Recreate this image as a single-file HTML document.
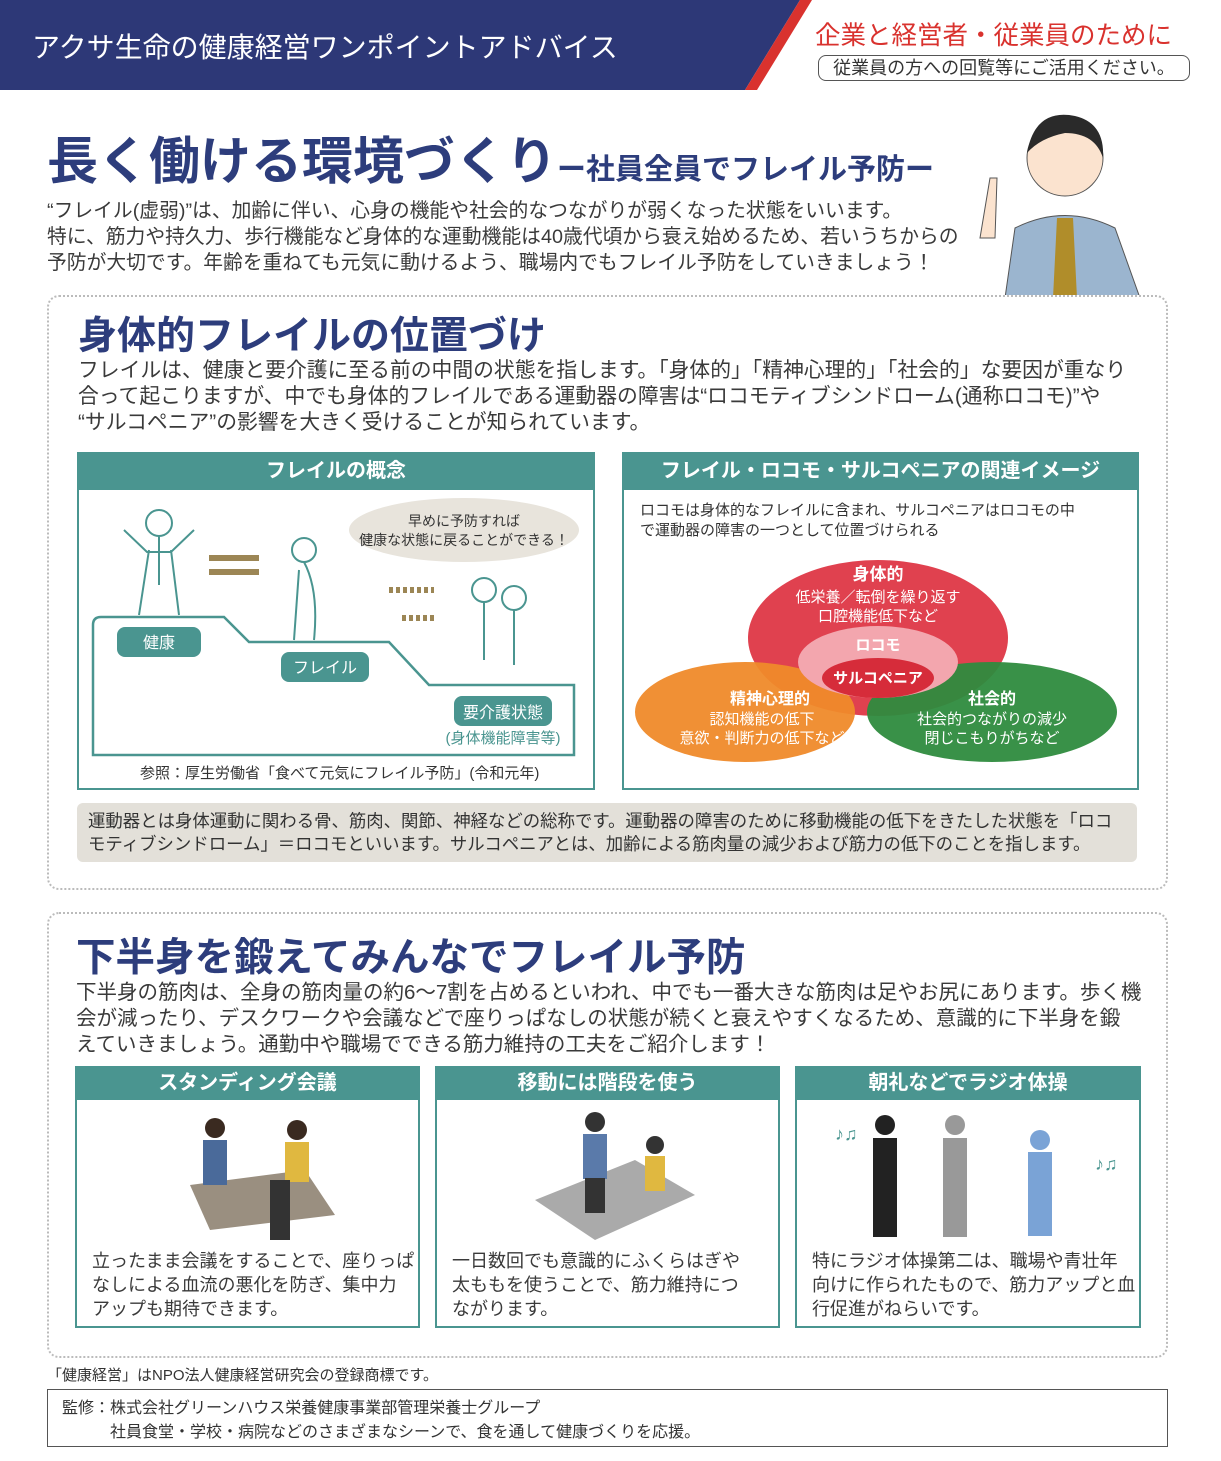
<!DOCTYPE html>
<html><head><meta charset="utf-8"><style>
body{margin:0;width:1221px;height:1461px;background:#fff;position:relative;overflow:hidden;font-family:"Liberation Sans","Noto Sans CJK JP",sans-serif;color:#333}
.a{position:absolute;white-space:nowrap}
.p{font-size:19px;line-height:26px;color:#3a3a3a}
.box{position:absolute;border:2px dotted #bbb;border-radius:12px;background:#fff}
.th{position:absolute;background:#4a9590;color:#fff;font-weight:bold;text-align:center}
.card{position:absolute;border:2px solid #4a9590;background:#fff}
</style></head><body>
<svg class="a" style="left:0;top:0" width="1221" height="95">
<polygon points="0,0 800,0 745,90 0,90" fill="#2d3877"/>
<polygon points="800,0 812,0 757,90 745,90" fill="#d9322e"/>
</svg>
<div class="a" style="left:32px;top:26px;font-size:28px;color:#fff">アクサ生命の健康経営ワンポイントアドバイス</div>
<div class="a" style="left:815px;top:15px;font-size:25.5px;color:#d9322e">企業と経営者・従業員のために</div>
<div class="a" style="left:818px;top:55px;width:370px;height:24px;border:1.5px solid #555;border-radius:8px;font-size:18px;line-height:24px;text-align:center;color:#333">従業員の方への回覧等にご活用ください。</div>

<div class="a" style="left:47px;top:120px;font-size:51px;font-weight:bold;color:#2d3d7c">長く働ける環境づくり<span style="font-size:29px">ー社員全員でフレイル予防ー</span></div>
<div class="a p" style="left:47px;top:198px;font-size:19.8px">“フレイル(虚弱)”は、加齢に伴い、心身の機能や社会的なつながりが弱くなった状態をいいます。<br>特に、筋力や持久力、歩行機能など身体的な運動機能は40歳代頃から衰え始めるため、若いうちからの<br>予防が大切です。年齢を重ねても元気に動けるよう、職場内でもフレイル予防をしていきましょう！</div>
<svg class="a" style="left:965px;top:98px" width="200" height="200">
<circle cx="100" cy="60" r="38" fill="#fbe3cf" stroke="#555"/>
<path d="M62,55 Q70,10 110,18 Q140,25 138,60 Q130,35 100,35 Q75,40 62,55Z" fill="#2a2a2a"/>
<path d="M40,200 L50,130 Q100,105 150,130 L175,200Z" fill="#9bb5cf" stroke="#555"/>
<polygon points="92,120 108,120 112,200 88,200" fill="#b08d2a"/>
<path d="M15,140 L25,80 L32,80 L30,140Z" fill="#fbe3cf" stroke="#555"/>
</svg>

<div class="box" style="left:47px;top:295px;width:1117px;height:591px"></div>
<div class="a" style="left:78px;top:305px;font-size:39px;font-weight:bold;color:#2d3d7c">身体的フレイルの位置づけ</div>
<div class="a p" style="left:78px;top:358px;font-size:20.8px">フレイルは、健康と要介護に至る前の中間の状態を指します。「身体的」「精神心理的」「社会的」な要因が重なり<br>合って起こりますが、中でも身体的フレイルである運動器の障害は“ロコモティブシンドローム(通称ロコモ)”や<br>“サルコペニア”の影響を大きく受けることが知られています。</div>

<div class="card" style="left:77px;top:452px;width:514px;height:334px"></div>
<div class="th" style="left:77px;top:452px;width:518px;height:38px;line-height:38px;font-size:20px">フレイルの概念</div>
<svg class="a" style="left:79px;top:490px" width="512" height="294">
<ellipse cx="385" cy="40" rx="115" ry="32" fill="#e8e4dc"/>
<text x="385" y="36" font-size="14" text-anchor="middle" fill="#333">早めに予防すれば</text>
<text x="385" y="55" font-size="14" text-anchor="middle" fill="#333">健康な状態に戻ることができる！</text>
<path d="M14,265 V135 Q14,127 22,127 H145 L170,152 H310 L350,195 H495 V265Z" fill="none" stroke="#4a9590" stroke-width="2.5"/>
<rect x="38" y="137" width="84" height="30" rx="8" fill="#4a9590"/><text x="80" y="158" font-size="16" fill="#fff" text-anchor="middle">健康</text>
<rect x="202" y="162" width="88" height="30" rx="8" fill="#4a9590"/><text x="246" y="183" font-size="16" fill="#fff" text-anchor="middle">フレイル</text>
<rect x="375" y="206" width="98" height="30" rx="8" fill="#4a9590"/><text x="424" y="228" font-size="16" fill="#fff" text-anchor="middle">要介護状態</text>
<text x="424" y="253" font-size="15" fill="#4a9590" text-anchor="middle">(身体機能障害等)</text>
<g fill="none" stroke="#4a9590" stroke-width="2">
<circle cx="80" cy="33" r="13"/><path d="M80,46 V95 M60,125 L70,60 M100,125 L92,60 M45,40 L68,62 L92,62 L115,40"/>
<circle cx="225" cy="60" r="12"/><path d="M225,72 Q240,100 235,150 M220,80 L215,150"/>
<circle cx="405" cy="100" r="12"/><circle cx="435" cy="108" r="12"/><path d="M405,112 V170 M435,120 V175"/>
</g>
<path d="M130,68 H180 M180,82 H130" stroke="#9c8655" stroke-width="6"/>
<path d="M310,100 H355 M355,128 H320" stroke="#9c8655" stroke-width="6" stroke-dasharray="4 3"/>
</svg>
<div class="a" style="left:140px;top:762px;font-size:15px;color:#333">参照：厚生労働省「食べて元気にフレイル予防」(令和元年)</div>

<div class="card" style="left:622px;top:452px;width:513px;height:334px"></div>
<div class="th" style="left:622px;top:452px;width:517px;height:38px;line-height:38px;font-size:20px">フレイル・ロコモ・サルコペニアの関連イメージ</div>
<div class="a" style="left:640px;top:501px;font-size:15px;line-height:20px;color:#333">ロコモは身体的なフレイルに含まれ、サルコペニアはロコモの中<br>で運動器の障害の一つとして位置づけられる</div>
<svg class="a" style="left:622px;top:540px" width="517" height="246">
<ellipse cx="256" cy="98" rx="130" ry="78" fill="#e0414f"/>
<ellipse cx="123" cy="172" rx="110" ry="50" fill="#ef8a2a" opacity="0.95"/>
<ellipse cx="370" cy="172" rx="125" ry="50" fill="#2e8b3e" opacity="0.95"/>
<ellipse cx="256" cy="122" rx="80" ry="36" fill="#f3a6ae"/>
<ellipse cx="256" cy="138" rx="56" ry="20" fill="#d62c3a"/>
<g font-size="15" text-anchor="middle" fill="#fff">
<text x="256" y="40" font-weight="bold" font-size="17">身体的</text>
<text x="256" y="62">低栄養／転倒を繰り返す</text><text x="256" y="81">口腔機能低下など</text>
<text x="256" y="110" font-weight="bold">ロコモ</text><text x="256" y="143" font-weight="bold">サルコペニア</text>
<text x="148" y="164" font-weight="bold" font-size="16">精神心理的</text>
<text x="140" y="184">認知機能の低下</text><text x="140" y="203">意欲・判断力の低下など</text>
<text x="370" y="164" font-weight="bold" font-size="16">社会的</text>
<text x="370" y="184">社会的つながりの減少</text><text x="370" y="203">閉じこもりがちなど</text>
</g>
</svg>
<div class="a" style="left:77px;top:803px;width:1060px;height:59px;background:#e3e0d9;border-radius:6px"></div>
<div class="a" style="left:88px;top:810px;font-size:17.4px;line-height:23px;color:#333">運動器とは身体運動に関わる骨、筋肉、関節、神経などの総称です。運動器の障害のために移動機能の低下をきたした状態を「ロコ<br>モティブシンドローム」＝ロコモといいます。サルコペニアとは、加齢による筋肉量の減少および筋力の低下のことを指します。</div>

<div class="box" style="left:47px;top:912px;width:1117px;height:442px"></div>
<div class="a" style="left:76px;top:926px;font-size:39.5px;font-weight:bold;color:#2d3d7c">下半身を鍛えてみんなでフレイル予防</div>
<div class="a p" style="left:76px;top:980px;font-size:20.5px">下半身の筋肉は、全身の筋肉量の約6～7割を占めるといわれ、中でも一番大きな筋肉は足やお尻にあります。歩く機<br>会が減ったり、デスクワークや会議などで座りっぱなしの状態が続くと衰えやすくなるため、意識的に下半身を鍛<br>えていきましょう。通勤中や職場でできる筋力維持の工夫をご紹介します！</div>

<div class="card" style="left:75px;top:1066px;width:341px;height:258px"></div>
<div class="th" style="left:75px;top:1066px;width:345px;height:34px;line-height:34px;font-size:20px">スタンディング会議</div>
<div class="a p" style="left:92px;top:1249px;font-size:18px;line-height:24px">立ったまま会議をすることで、座りっぱ<br>なしによる血流の悪化を防ぎ、集中力<br>アップも期待できます。</div>
<div class="card" style="left:435px;top:1066px;width:341px;height:258px"></div>
<div class="th" style="left:435px;top:1066px;width:345px;height:34px;line-height:34px;font-size:20px">移動には階段を使う</div>
<div class="a p" style="left:452px;top:1249px;font-size:18px;line-height:24px">一日数回でも意識的にふくらはぎや<br>太ももを使うことで、筋力維持につ<br>ながります。</div>
<div class="card" style="left:795px;top:1066px;width:342px;height:258px"></div>
<div class="th" style="left:795px;top:1066px;width:346px;height:34px;line-height:34px;font-size:20px">朝礼などでラジオ体操</div>
<div class="a p" style="left:812px;top:1249px;font-size:18px;line-height:24px">特にラジオ体操第二は、職場や青壮年<br>向けに作られたもので、筋力アップと血<br>行促進がねらいです。</div>
<svg class="a" style="left:75px;top:1100px" width="1066" height="145">
<polygon points="115,85 230,70 260,115 135,130" fill="#9a8f80"/>
<g fill="#4a6a9a"><circle cx="140" cy="28" r="10" fill="#3a2a20"/><rect x="128" y="40" width="24" height="45"/><circle cx="222" cy="30" r="10" fill="#3a2a20"/><rect x="210" y="42" width="24" height="40" fill="#e0b840"/><rect x="195" y="80" width="20" height="60" fill="#333"/></g>
<polygon points="460,100 560,60 620,95 520,140" fill="#aaa"/>
<g fill="#333"><circle cx="520" cy="22" r="10"/><rect x="508" y="34" width="24" height="45" fill="#5a7aaa"/><rect x="510" y="78" width="20" height="35"/><circle cx="580" cy="45" r="9"/><rect x="570" y="56" width="20" height="35" fill="#e0b840"/></g>
<g fill="#222"><circle cx="810" cy="25" r="10"/><rect x="798" y="38" width="24" height="55"/><rect x="798" y="92" width="24" height="45"/></g>
<g fill="#999"><circle cx="880" cy="25" r="10"/><rect x="868" y="38" width="24" height="55"/><rect x="868" y="92" width="24" height="45"/></g>
<g fill="#7aa3d6"><circle cx="965" cy="40" r="10"/><rect x="953" y="52" width="24" height="45"/><rect x="953" y="96" width="24" height="40"/></g>
<text x="760" y="40" font-size="18" fill="#4a9590">♪♫</text><text x="1020" y="70" font-size="18" fill="#4a9590">♪♫</text>
</svg>

<div class="a" style="left:47px;top:1364px;font-size:15px;color:#333">「健康経営」はNPO法人健康経営研究会の登録商標です。</div>
<div class="a" style="left:47px;top:1389px;width:1119px;height:56px;border:1.5px solid #555"></div>
<div class="a" style="left:62px;top:1397px;font-size:16px;line-height:24px;color:#333">監修：株式会社グリーンハウス栄養健康事業部管理栄養士グループ<br>　　　社員食堂・学校・病院などのさまざまなシーンで、食を通して健康づくりを応援。</div>
</body></html>
